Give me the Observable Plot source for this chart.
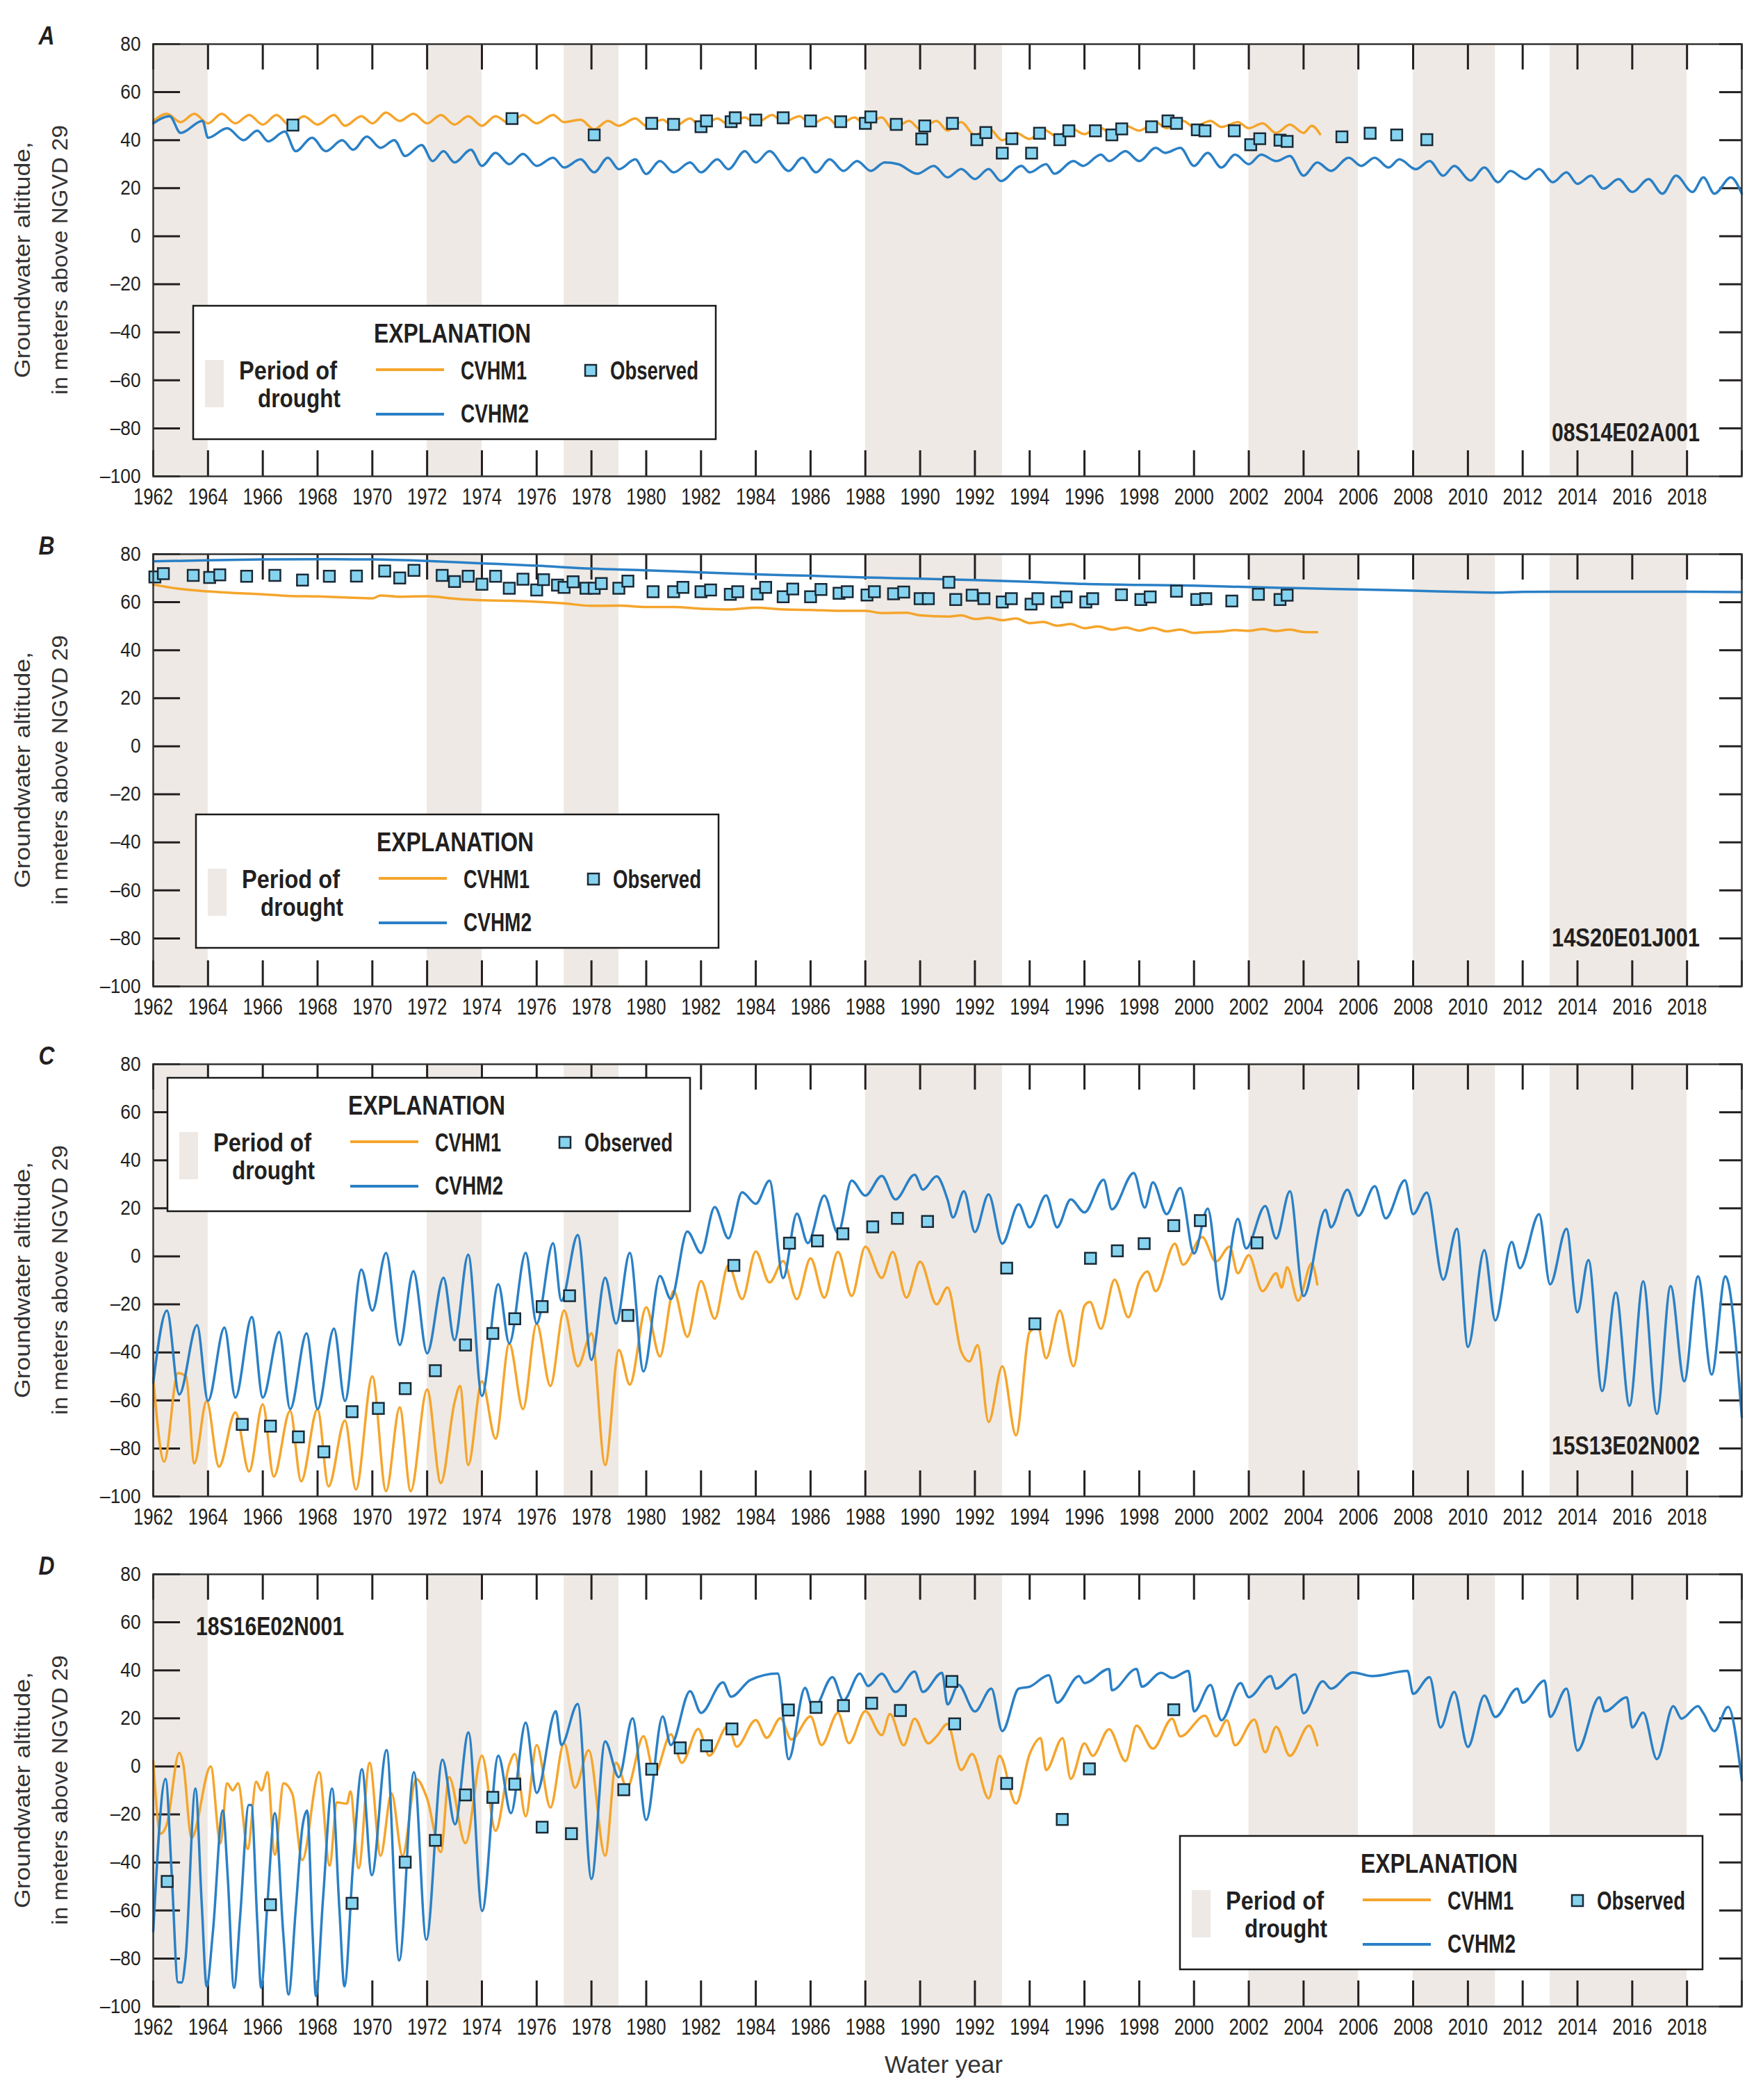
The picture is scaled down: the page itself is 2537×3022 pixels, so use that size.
<!DOCTYPE html>
<html><head><meta charset="utf-8">
<script src="https://cdn.jsdelivr.net/npm/d3@7"></script>
<script src="https://cdn.jsdelivr.net/npm/@observablehq/plot@0.6"></script>
<style>
body{margin:0;background:#fff;}
#chart{width:2537px;}
#chart svg{display:block;}
</style></head><body><div id="chart"></div>
<script>
// ---------------- data ----------------
const panelLetters = ["A", "B", "C", "D"];
const siteIds = ["08S14E02A001", "14S20E01J001", "15S13E02N002", "18S16E02N001"];
const xTickYears = d3.range(1962, 2021, 2);
const xLabelYears = d3.range(1962, 2019, 2);
const yTicks = [80, 60, 40, 20, 0, -20, -40, -60, -80, -100];
const droughtStart = [1962, 1972, 1977, 1988, 2002, 2008, 2013];
const droughtEnd   = [1964, 1974, 1979, 1993, 2006, 2011, 2018];

const aCvhm1 = [[1962.0,48],[1962.5,51],[1963.0,47.5],[1963.5,51],[1964.0,47],[1964.5,51],[1965.0,47],[1965.5,50.5],[1966.0,46.5],[1966.5,50.5],[1967.0,46],[1967.5,50],[1968.0,46.5],[1968.6,50.5],[1969.0,46],[1969.6,50],[1970.0,47],[1970.5,51.5],[1971.0,48],[1971.5,51],[1972.0,47],[1972.5,50.5],[1973.0,46.5],[1973.5,50],[1974.0,46],[1974.5,50],[1975.0,47],[1975.5,50.5],[1976.0,47],[1976.6,50.5],[1977.0,47.5],[1977.6,48.5],[1978.1,44.5],[1978.6,48],[1979.0,46],[1979.6,49],[1980.0,46],[1980.6,48.5],[1981.0,45.5],[1981.6,49],[1982.0,45.5],[1982.6,49],[1983.0,46.5],[1983.6,49.5],[1984.0,47],[1984.6,50.5],[1985.0,47.5],[1985.6,50],[1986.0,46.5],[1986.6,49.5],[1987.0,46],[1987.6,49.5],[1988.0,46.5],[1988.6,49.5],[1989.0,44.5],[1989.6,48],[1990.0,44.5],[1990.6,48],[1991.0,44],[1991.5,47.5],[1992.0,42],[1992.5,45],[1993.0,40],[1993.5,43],[1994.0,40.5],[1994.5,44.5],[1995.0,41.5],[1995.5,45],[1996.0,42.5],[1996.5,45.5],[1997.0,43],[1997.5,46],[1998.0,44],[1998.6,47.5],[1999.0,45],[1999.6,48],[2000.0,45.5],[2000.6,48],[2001.0,45.5],[2001.6,47.5],[2002.0,45],[2002.5,47],[2003.0,43],[2003.5,46.5],[2004.0,43],[2004.3,46],[2004.6,42.5]];
const aCvhm2 = [[1962.0,47],[1962.6,50],[1963.0,43],[1963.8,48],[1964.0,41],[1964.7,45],[1965.3,40],[1965.8,44],[1966.2,39.5],[1966.8,43.6],[1967.2,35.4],[1967.8,41],[1968.3,35.4],[1968.9,40],[1969.3,36],[1969.8,41.5],[1970.3,36.8],[1970.8,40],[1971.2,33.4],[1971.8,38],[1972.2,31.3],[1972.6,35.4],[1973.0,30.7],[1973.6,36],[1974.0,29.3],[1974.5,34.7],[1975.0,30],[1975.5,34.3],[1976.0,29.3],[1976.6,32.7],[1977.0,28.6],[1977.6,32],[1978.1,26.6],[1978.6,32.7],[1979.0,27.9],[1979.6,32],[1980.0,25.9],[1980.5,31.3],[1981.0,26.6],[1981.6,30.7],[1982.0,26.6],[1982.6,32],[1983.0,27.9],[1983.6,35.4],[1984.0,30.7],[1984.5,35.4],[1985.2,27.2],[1985.7,32.7],[1986.2,26.6],[1986.7,32],[1987.2,27.2],[1987.7,31.3],[1988.2,27.2],[1988.7,30.7],[1989.2,30],[1989.9,26],[1990.5,29.3],[1991.0,24.5],[1991.5,28],[1992.0,23.8],[1992.5,28],[1992.95,23],[1993.7,29.3],[1994.0,26.6],[1994.6,30],[1994.9,26],[1995.6,31.3],[1995.95,29.3],[1996.6,34],[1996.9,31.3],[1997.5,35.4],[1998.0,31.3],[1998.6,36.8],[1998.95,34.7],[1999.5,36.8],[2000.0,29.3],[2000.5,34.7],[2001.0,28.6],[2001.5,34],[2002.0,30],[2002.45,34],[2003.0,31.3],[2003.5,33.4],[2004.0,25.2],[2004.5,30.7],[2005.0,27.2],[2005.65,32.7],[2006.1,29.3],[2006.6,32.7],[2007.1,28.6],[2007.5,32],[2008.1,27.9],[2008.6,31.3],[2009.1,25.2],[2009.5,29.3],[2010.1,23.2],[2010.6,28.6],[2011.1,22.5],[2011.55,27.2],[2012.1,23.8],[2012.6,28],[2013.1,22.5],[2013.6,26.6],[2014.0,21.8],[2014.5,25.2],[2014.95,19.8],[2015.5,23.8],[2016.0,18.4],[2016.6,23.8],[2017.1,17.7],[2017.6,25.2],[2018.2,18.4],[2018.6,24.5],[2019.0,17.7],[2019.6,24.5],[2020.0,17.7]];
const aObs = [[1967.1,46.3],[1975.1,49],[1978.1,42.2],[1980.2,47],[1981.0,46.6],[1982.0,45.6],[1982.2,48],[1983.1,47.7],[1983.25,49.3],[1984.0,48.4],[1985.0,49.3],[1986.0,48],[1987.1,47.7],[1988.0,47],[1988.2,49.7],[1989.13,46.6],[1990.17,45.9],[1990.06,40.5],[1991.18,47],[1992.07,40.2],[1992.4,43.2],[1993.0,34.6],[1993.35,40.6],[1994.07,34.6],[1994.36,42.9],[1995.1,40.2],[1995.43,43.9],[1996.4,43.9],[1997.0,42.2],[1997.36,44.7],[1998.45,45.6],[1999.05,48],[1999.36,47],[2000.12,44.3],[2000.4,43.9],[2001.47,43.9],[2002.07,38.1],[2002.4,40.6],[2003.14,40],[2003.4,39.5],[2005.4,41.4],[2006.43,42.9],[2007.4,42.2],[2008.5,40.2]];

const bCvhm1 = [[1962,67.3],[1963,65.5],[1964,64.5],[1965,63.8],[1966,63.3],[1967,62.6],[1968,62.4],[1969,62],[1970,61.6],[1970.3,62.8],[1971,62.3],[1972,62.5],[1973,61.5],[1974,60.8],[1975,60.6],[1976,60.2],[1977,59.5],[1978,58.5],[1979,58.6],[1980,58],[1981,58],[1982,57.3],[1983,57],[1984,57.7],[1985,57],[1986,56.8],[1987,56.4],[1988,56.4],[1988.6,55.5],[1989.5,55.6],[1990,54.5],[1991,54],[1991.5,54.5],[1992,53],[1992.5,53.5],[1993,52.5],[1993.5,53.2],[1994,51.3],[1994.5,51.8],[1995,50.2],[1995.5,50.9],[1996,49.2],[1996.5,49.9],[1997,48.6],[1997.5,49.5],[1998,48.2],[1998.5,49.3],[1999,47.9],[1999.5,48.6],[2000,47.2],[2000.5,47.6],[2001,47.8],[2001.5,48.4],[2002,48.1],[2002.5,48.8],[2003,48],[2003.5,48.6],[2004,47.6],[2004.5,47.5]];
const bCvhm2 = [[1962,77],[1964,77.5],[1966,77.8],[1968,77.9],[1970,77.8],[1972,77.2],[1974,76.2],[1976,75.2],[1978,74],[1980,73.3],[1982,72.4],[1984,71.6],[1986,71],[1988,70.3],[1990,69.8],[1992,69.2],[1994,68.5],[1996,67.6],[1998,67.2],[2000,66.9],[2002,66.3],[2004,65.8],[2006,65.3],[2008,64.8],[2010,64.2],[2011,64],[2012,64.3],[2014,64.4],[2016,64.4],[2018,64.4],[2020,64.2]];
const bObs = [[1962.06,70.5],[1962.37,71.9],[1963.46,71.2],[1964.06,70.3],[1964.43,71.4],[1965.41,70.8],[1966.44,71.2],[1967.45,69.2],[1968.43,70.8],[1969.42,70.9],[1970.45,73],[1971.0,70.1],[1971.52,73.3],[1972.55,71.2],[1973.0,68.6],[1973.5,70.8],[1974.0,67.5],[1974.5,70.8],[1975.0,65.8],[1975.5,69.6],[1976.0,65.1],[1976.25,69.4],[1976.76,67.1],[1977.0,66.2],[1977.33,68.5],[1977.8,65.8],[1978.1,65.8],[1978.36,67.8],[1979.0,65.8],[1979.33,68.8],[1980.25,64.4],[1981.0,64.4],[1981.34,66.2],[1982.0,64.4],[1982.35,65.1],[1983.07,63.3],[1983.34,64.4],[1984.05,63.4],[1984.36,66.2],[1985.0,62.3],[1985.35,65.5],[1986.0,62.3],[1986.38,65.3],[1987.04,63.7],[1987.34,64.4],[1988.06,63],[1988.33,64.4],[1989.03,63.5],[1989.4,64.2],[1990.0,61.5],[1990.3,61.5],[1991.05,68.3],[1991.3,61.1],[1991.9,62.9],[1992.33,61.5],[1993.0,60.1],[1993.33,61.5],[1994.05,59.2],[1994.3,61.5],[1995.0,60.1],[1995.33,62.2],[1996.05,60.1],[1996.3,61.5],[1997.35,63.1],[1998.06,61.1],[1998.4,62.2],[1999.36,64.6],[2000.1,61.1],[2000.43,61.5],[2001.38,60.5],[2002.35,63.3],[2003.14,61.1],[2003.4,62.9]];

const cCvhm1 = [[1962.0,-50.6],[1962.4,-85.5],[1962.9,-48.6],[1963.2,-50],[1963.5,-86.2],[1963.95,-60.2],[1964.4,-87.6],[1965.0,-65],[1965.5,-89.6],[1966.0,-61.6],[1966.4,-91.7],[1967.0,-64.3],[1967.4,-93.7],[1968.0,-63.6],[1968.4,-95.8],[1969.0,-68.4],[1969.4,-97.1],[1970.0,-50],[1970.5,-97.8],[1971.0,-62.9],[1971.4,-97.8],[1972.0,-55.4],[1972.5,-94.4],[1973.0,-60.9],[1973.2,-54],[1973.5,-86.9],[1974.0,-52],[1974.5,-75.9],[1975.0,-36.3],[1975.5,-63.6],[1976.0,-28],[1976.5,-54],[1977.0,-22.6],[1977.5,-45.8],[1978.0,-32.1],[1978.5,-86.9],[1979.0,-39],[1979.4,-53.4],[1980.0,-21.2],[1980.5,-41.7],[1981.0,-14.4],[1981.5,-33.5],[1982.0,-10.3],[1982.5,-26],[1983.0,-3.6],[1983.5,-17.8],[1984.0,2],[1984.5,-10.9],[1985.0,-2],[1985.5,-17.8],[1986.0,-0.8],[1986.5,-17.2],[1987.0,1.9],[1987.5,-16.5],[1988.0,4],[1988.6,-9],[1989.0,1.9],[1989.5,-17.2],[1990.0,-2.2],[1990.6,-20],[1991.0,-13],[1991.5,-39.7],[1991.8,-43.8],[1992.1,-37],[1992.5,-69],[1993.0,-45.8],[1993.5,-74.5],[1994.0,-31.5],[1994.3,-29.5],[1994.6,-42.4],[1995.1,-22.6],[1995.6,-45.8],[1996.0,-20.6],[1996.2,-19],[1996.6,-30.2],[1997.1,-9.7],[1997.6,-25.4],[1998.0,-10.4],[1998.3,-6.3],[1998.6,-14.5],[1999.3,5.3],[1999.6,-3.5],[2000.3,8],[2000.8,-2.2],[2001.3,4],[2001.6,-7],[2002.0,0.5],[2002.5,-14.5],[2003.0,-7],[2003.2,-13],[2003.4,-4.6],[2003.8,-18.5],[2004.3,-2.9],[2004.5,-11.7]];
const cCvhm2 = [[1962.0,-52.7],[1962.5,-22.6],[1962.95,-57.5],[1963.6,-28.7],[1964.0,-60.2],[1964.6,-29.7],[1965.0,-58.8],[1965.6,-25.3],[1966.0,-58.8],[1966.6,-31.5],[1967.0,-63.6],[1967.6,-32.1],[1968.0,-63.6],[1968.6,-30.1],[1969.0,-60.2],[1969.6,-5.5],[1970.0,-22.6],[1970.5,1.4],[1971.0,-36.9],[1971.5,-6.2],[1972.0,-40.4],[1972.6,-8.9],[1973.0,-34.9],[1973.5,0.7],[1974.0,-58.1],[1974.6,-11.6],[1975.0,-36.3],[1975.6,1.4],[1976.0,-28],[1976.6,5.5],[1976.9,-18.5],[1977.5,8.9],[1978.0,-43.1],[1978.5,-8.9],[1978.9,-28],[1979.4,1.4],[1979.9,-47.9],[1980.5,-8.2],[1980.9,-17.8],[1981.5,10.3],[1982.0,1.4],[1982.5,20.5],[1983.0,7.5],[1983.5,26.7],[1984.0,21.9],[1984.5,31.5],[1985.0,-9],[1985.5,17.8],[1985.9,5.5],[1986.5,25.3],[1987.0,9.6],[1987.5,31.5],[1988.0,25.3],[1988.6,33.5],[1989.1,23.7],[1989.8,34],[1990.1,27.8],[1990.6,33.3],[1991.0,23.7],[1991.2,16.2],[1991.6,27.1],[1992.0,10.1],[1992.5,25.8],[1993.0,5.3],[1993.6,21.7],[1994.0,12.1],[1994.6,25.4],[1995.0,12.1],[1995.5,23.7],[1996.0,18.3],[1996.7,31.9],[1997.0,19.6],[1997.8,34.7],[1998.2,20.3],[1998.5,30.8],[1999.0,17.6],[1999.5,28.5],[2000.0,1.2],[2000.5,19.9],[2001.0,-17.9],[2001.6,15.6],[2001.9,3.3],[2002.6,21],[2003.0,7.4],[2003.5,27.1],[2004.0,-16.5],[2004.8,19.4],[2005.0,12.1],[2005.6,27.8],[2006.0,16.9],[2006.6,29.2],[2007.0,15.8],[2007.7,31.7],[2008.0,17.6],[2008.5,26.5],[2009.1,-9.7],[2009.6,11.5],[2010.0,-37.7],[2010.6,2.6],[2011.0,-26.7],[2011.6,6],[2011.9,-4.9],[2012.6,17.6],[2013.0,-11.7],[2013.6,11.5],[2014.0,-23.3],[2014.4,-1.5],[2014.9,-56.1],[2015.4,-15.1],[2015.9,-62.2],[2016.4,-10.4],[2016.9,-65.6],[2017.4,-12.4],[2017.9,-52],[2018.4,-8.3],[2018.9,-49.2],[2019.4,-8.3],[2020.0,-67]];
const cObs = [[1965.25,-70],[1966.28,-70.7],[1967.3,-75.2],[1968.23,-81.4],[1969.26,-64.7],[1970.22,-63.3],[1971.2,-55.1],[1972.3,-47.6],[1973.4,-36.9],[1974.4,-32.1],[1975.2,-26],[1976.2,-20.9],[1977.2,-16.4],[1979.33,-24.6],[1983.2,-3.8],[1985.23,5.5],[1986.25,6.4],[1987.18,9.4],[1988.27,12.3],[1989.17,15.8],[1990.27,14.5],[1993.16,-4.9],[1994.19,-28.1],[1996.22,-0.8],[1997.2,2.3],[1998.18,5.3],[1999.26,12.8],[2000.23,14.9],[2002.3,5.6]];

const dCvhm1 = [[1962.0,2.2],[1962.27,-28],[1962.5,-24],[1962.95,5.6],[1963.1,0.7],[1963.4,-29.8],[1964.1,0],[1964.45,-32],[1964.7,-7],[1964.9,-10],[1965.1,-7],[1965.45,-34.4],[1965.76,-6.4],[1965.95,-10],[1966.17,-2.4],[1966.44,-36.7],[1966.76,-7],[1967.08,-11.5],[1967.44,-39],[1968.06,-2.4],[1968.44,-41.3],[1968.71,-15],[1969.07,-15.5],[1969.2,-10.4],[1969.5,-42.4],[1969.9,1.5],[1970.3,-37.2],[1970.7,-11.2],[1971.1,-37.2],[1971.6,-5.2],[1972.0,-13.4],[1972.5,-35.7],[1972.8,-4.5],[1973.4,-32],[1974.0,4.5],[1974.5,-26.8],[1975.0,0.7],[1975.2,5.2],[1975.6,-20.8],[1976.0,8.9],[1976.5,-17.1],[1977.0,9.7],[1977.4,-8.9],[1977.9,6.7],[1978.5,-37.2],[1978.9,1.5],[1979.3,-8.9],[1979.9,12.6],[1980.3,-3],[1980.9,13.4],[1981.3,1.5],[1981.9,15.6],[1982.3,4.5],[1983.0,17.1],[1983.3,8.2],[1984.0,19.3],[1984.4,11.9],[1984.9,20.1],[1985.3,11.2],[1986.0,20.8],[1986.4,8.9],[1987.0,22.3],[1987.4,9.7],[1988.0,23],[1988.6,13],[1988.9,21.8],[1989.4,8.8],[1989.8,19.9],[1990.3,9.6],[1990.6,12.5],[1991.0,17.7],[1991.5,-1.5],[1991.9,5.2],[1992.5,-13.3],[1992.9,4.4],[1993.5,-15.5],[1994.0,5.2],[1994.4,11.8],[1994.6,-1.5],[1995.2,11.8],[1995.5,-5.2],[1996.0,9.6],[1996.3,4.4],[1996.9,15.5],[1997.5,2.2],[1997.9,17],[1998.5,7.4],[1999.2,19.9],[1999.5,12.5],[2000.4,21.1],[2000.8,12.5],[2001.2,19.2],[2001.5,8.8],[2002.2,19.5],[2002.6,5.9],[2003.0,16.5],[2003.5,4.4],[2004.2,17],[2004.5,8.8]];
const dCvhm2 = [[1962.0,-68.7],[1962.45,-5.2],[1962.68,-45.9],[1962.9,-89.9],[1963.04,-90],[1963.18,-80],[1963.54,-9.2],[1963.77,-57],[1963.95,-91.6],[1964.18,-68.7],[1964.54,-18.4],[1964.72,-45.9],[1964.95,-92.2],[1965.17,-63],[1965.49,-16.1],[1965.58,-16.1],[1965.8,-65],[1965.94,-92.2],[1966.17,-57],[1966.44,-19.5],[1966.75,-70],[1966.94,-95],[1967.2,-60],[1967.45,-25],[1967.62,-18.4],[1967.82,-70],[1967.94,-95.6],[1968.2,-55],[1968.53,-9.2],[1968.8,-60],[1968.98,-91.6],[1969.3,-40],[1969.62,-1.2],[1969.98,-45.3],[1970.52,6.8],[1970.98,-80.8],[1971.52,-2.4],[1971.97,-72.2],[1972.56,2.8],[1973.02,-24.1],[1973.51,14.2],[1974.01,-60.2],[1974.6,4.5],[1975.06,-19.5],[1975.6,18.2],[1976.0,-11],[1976.7,23],[1976.9,8.9],[1977.5,26],[1978.0,-46.9],[1978.5,10.4],[1979.0,-4.5],[1979.5,20],[1980.0,-22.3],[1980.6,20.8],[1980.9,8.9],[1981.6,31.3],[1982.0,22.3],[1982.8,35],[1983.1,29],[1983.8,36],[1984.8,38.7],[1985.2,3],[1985.8,32.7],[1986.1,23.8],[1986.8,37.2],[1987.2,27.5],[1987.8,38.7],[1988.1,33.5],[1988.6,38.6],[1989.1,31],[1989.8,39.5],[1990.1,31],[1990.8,39],[1991.0,25.8],[1991.4,34],[1992.0,22.9],[1992.6,32.4],[1993.0,14.7],[1993.6,32.4],[1994.0,33.2],[1994.7,38],[1995.0,26.5],[1995.8,37.6],[1996.0,34.7],[1996.9,40.6],[1997.0,31.7],[1997.9,40.6],[1998.1,33.2],[1998.8,39],[1999.2,36.9],[1999.8,39.8],[2000.0,22.9],[2000.6,33.9],[2001.0,19.2],[2001.7,34.7],[2002.0,28.8],[2002.8,37.6],[2003.0,32.4],[2003.7,38.3],[2004.0,22.1],[2004.7,35.4],[2005.0,32.4],[2005.8,39.1],[2006.5,37.6],[2007.8,39.8],[2008.0,30.2],[2008.6,37.2],[2009.0,16.2],[2009.5,31],[2010.0,8.1],[2010.6,29.5],[2011.0,20.6],[2011.8,32.4],[2012.0,26.5],[2012.8,35.7],[2013.0,20.6],[2013.6,32.4],[2014.0,6.6],[2014.8,28.8],[2015.0,22.9],[2015.8,28.8],[2016.0,16.2],[2016.4,22.4],[2016.9,3],[2017.5,25.1],[2017.8,19.9],[2018.4,25.1],[2018.6,22.1],[2019.0,14.7],[2019.5,24.8],[2020.0,-5.9]];
const dObs = [[1962.51,-47.9],[1966.28,-57.6],[1969.26,-57],[1971.2,-39.9],[1972.3,-30.8],[1973.4,-11.9],[1974.4,-12.9],[1975.2,-7.4],[1976.2,-25.3],[1977.27,-28],[1979.18,-9.7],[1980.2,-1.2],[1981.24,7.7],[1982.2,8.6],[1983.13,15.6],[1985.19,23.5],[1986.2,24.6],[1987.2,25.3],[1988.23,26.3],[1989.28,23.3],[1991.16,35.4],[1991.26,17.7],[1993.16,-7.1],[1995.19,-22.1],[1996.18,-1],[1999.26,23.6]];

// ---------------- style / layout ----------------
const FONT = '"Liberation Sans", Arial, Helvetica, sans-serif';
const ORANGE = "#f5a52c", BLUE = "#2a80c6", CYAN = "#86d3ef", DROUGHT = "#eee9e4", INK = "#231f20";
const W = 2537, H = 734, ML = 220, MR = 31, MT = 63, PH = 622;
const xDom = [1962, 2020], yDom = [-100, 80];
const pxYear = (W - ML - MR) / (xDom[1] - xDom[0]);
const pxUnit = PH / (yDom[1] - yDom[0]);

const panels = [
  {cv1: aCvhm1, cv2: aCvhm2, obs: aObs, legend: [278, 440], site: {x: 2446, y: 635, anchor: "end"}},
  {cv1: bCvhm1, cv2: bCvhm2, obs: bObs, legend: [282, 438], site: {x: 2446, y: 628, anchor: "end"}},
  {cv1: cCvhm1, cv2: cCvhm2, obs: cObs, legend: [241, 83], site: {x: 2446, y: 625, anchor: "end"}},
  {cv1: dCvhm1, cv2: dCvhm2, obs: dObs, legend: [1698, 440], site: {x: 282, y: 151, anchor: "start"}, height: 820}
];

const fmtY = d => d < 0 ? "\u2013" + Math.abs(d) : String(d);
const pts = a => a.map(([x, y]) => ({x, y}));

function label(g, x, y, txt, len, opts = {}) {
  const t = g.append("text").attr("x", x).attr("y", y).attr("text-anchor", "start").text(txt);
  if (len) t.attr("textLength", len).attr("lengthAdjust", "spacingAndGlyphs");
  for (const k in opts) t.attr(k, opts[k]);
  return t;
}

function addLegend(svg, x0, y0) {
  const g = d3.select(svg).append("g").attr("text-anchor", "start")
    .attr("font-family", FONT).attr("font-weight", "bold").attr("font-size", 37).attr("fill", INK);
  g.append("rect").attr("x", x0).attr("y", y0).attr("width", 752).attr("height", 192)
    .attr("fill", "#fff").attr("stroke", "#1a1a1a").attr("stroke-width", 2.5);
  label(g, x0 + 260, y0 + 53, "EXPLANATION", 226, {"font-size": 39});
  g.append("rect").attr("x", x0 + 17).attr("y", y0 + 78).attr("width", 27).attr("height", 68).attr("fill", DROUGHT);
  label(g, x0 + 66, y0 + 106, "Period of", 141);
  label(g, x0 + 93, y0 + 146, "drought", 119);
  g.append("line").attr("x1", x0 + 263).attr("x2", x0 + 361).attr("y1", y0 + 92).attr("y2", y0 + 92)
    .attr("stroke", ORANGE).attr("stroke-width", 4);
  label(g, x0 + 385, y0 + 106, "CVHM1", 95);
  g.append("line").attr("x1", x0 + 263).attr("x2", x0 + 361).attr("y1", y0 + 156).attr("y2", y0 + 156)
    .attr("stroke", BLUE).attr("stroke-width", 4);
  label(g, x0 + 385, y0 + 168, "CVHM2", 98);
  g.append("rect").attr("x", x0 + 564).attr("y", y0 + 85).attr("width", 16).attr("height", 16)
    .attr("fill", CYAN).attr("stroke", "#1b2a36").attr("stroke-width", 2.5);
  label(g, x0 + 600, y0 + 106, "Observed", 127);
}

const root = document.getElementById("chart");
panels.forEach((p, i) => {
  const h = p.height || H;
  const tlx = 37 / pxUnit, tlyL = 39 / pxYear, tlyR = 32 / pxYear;
  const xTicksBottom = xTickYears.map(x => ({x, y1: yDom[0], y2: yDom[0] + tlx}));
  const xTicksTop = xTickYears.map(x => ({x, y1: yDom[1], y2: yDom[1] - tlx}));
  const yTicksLeft = yTicks.map(y => ({y, x1: xDom[0], x2: xDom[0] + tlyL}));
  const yTicksRight = yTicks.map(y => ({y, x1: xDom[1] - tlyR, x2: xDom[1]}));
  const drought = droughtStart.map((s, k) => ({x1: s, x2: droughtEnd[k]}));
  const svg = Plot.plot({
    width: W, height: h,
    marginLeft: ML, marginRight: MR, marginTop: MT, marginBottom: h - MT - PH,
    x: {domain: xDom},
    y: {domain: yDom},
    style: {fontFamily: FONT, fontSize: "30px", color: INK, background: "#fff", overflow: "visible"},
    marks: [
      Plot.rect(drought, {x1: "x1", x2: "x2", fill: DROUGHT}),
      Plot.ruleX(xTicksBottom, {x: "x", y1: "y1", y2: "y2", stroke: INK, strokeWidth: 3}),
      Plot.ruleX(xTicksTop, {x: "x", y1: "y1", y2: "y2", stroke: INK, strokeWidth: 3}),
      Plot.ruleY(yTicksLeft, {y: "y", x1: "x1", x2: "x2", stroke: INK, strokeWidth: 3}),
      Plot.ruleY(yTicksRight, {y: "y", x1: "x1", x2: "x2", stroke: INK, strokeWidth: 3}),
      Plot.axisX({ticks: xLabelYears, tickSize: 0, tickPadding: 17, tickFormat: d => String(d), label: null, fill: INK, fontSize: 33}),
      Plot.axisY({ticks: yTicks, tickSize: 0, tickPadding: 18, tickFormat: fmtY, label: null, fill: INK, fontSize: 29}),
      Plot.line(pts(p.cv1), {x: "x", y: "y", stroke: ORANGE, strokeWidth: 3.5, curve: "monotone-x"}),
      Plot.line(pts(p.cv2), {x: "x", y: "y", stroke: BLUE, strokeWidth: 3.5, curve: "monotone-x"}),
      Plot.dot(pts(p.obs), {x: "x", y: "y", symbol: "square", r: 9, fill: CYAN, stroke: "#1b2a36", strokeWidth: 2.5}),
      Plot.frame({stroke: "#333", strokeWidth: 2.5})
    ]
  });
  const s = d3.select(svg);
  // condensed look for tick labels (same position, narrower glyphs)
  s.selectAll('g[aria-label="x-axis tick label"] text')
    .each(function () { const n = (this.textContent || "").length;
      this.setAttribute("textLength", (n * 14.3).toFixed(1)); this.setAttribute("lengthAdjust", "spacingAndGlyphs"); });
  s.selectAll('g[aria-label="y-axis tick label"] text')
    .each(function () { const n = (this.textContent || "").length;
      this.setAttribute("textLength", (n * 14.6).toFixed(1)); this.setAttribute("lengthAdjust", "spacingAndGlyphs"); });
  // panel letter
  s.append("text").attr("x", 67).attr("y", 64).attr("text-anchor", "middle")
    .attr("font-family", FONT).attr("font-weight", "bold").attr("font-style", "italic")
    .attr("font-size", 37).attr("fill", INK).attr("textLength", 23).attr("lengthAdjust", "spacingAndGlyphs")
    .text(panelLetters[i]);
  // y-axis title
  const cy = MT + PH / 2;
  const yt = s.append("g").attr("font-family", FONT).attr("font-size", 31).attr("fill", "#333")
    .attr("text-anchor", "middle");
  yt.append("text").attr("transform", `translate(43,${cy}) rotate(-90)`)
    .attr("textLength", 340).attr("lengthAdjust", "spacingAndGlyphs").text("Groundwater altitude,");
  yt.append("text").attr("transform", `translate(97,${cy}) rotate(-90)`)
    .attr("textLength", 388).attr("lengthAdjust", "spacingAndGlyphs").text("in meters above NGVD 29");
  // site id
  const sg = s.append("g").attr("text-anchor", "start").attr("font-family", FONT).attr("font-weight", "bold")
    .attr("font-size", 36).attr("fill", INK);
  label(sg, p.site.anchor === "end" ? p.site.x - 213 : p.site.x, p.site.y, siteIds[i], 213);
  addLegend(svg, p.legend[0], p.legend[1]);
  if (i === 3) {
    s.append("text").attr("x", ML + (W - ML - MR) / 2 - 5).attr("y", 781).attr("text-anchor", "middle")
      .attr("font-family", FONT).attr("font-size", 35).attr("fill", "#333").text("Water year");
  }
  root.appendChild(svg);
});
</script>
</body></html>
